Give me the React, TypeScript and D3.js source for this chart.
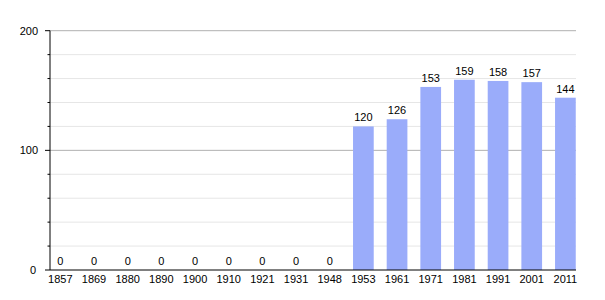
import React from "react";
import * as d3 from "d3";

const years = ["1857","1869","1880","1890","1900","1910","1921","1931","1948","1953","1961","1971","1981","1991","2001","2011"];
const population = [0,0,0,0,0,0,0,0,0,120,126,153,159,158,157,144];
const yTicks = [0, 100, 200];
const minorTicks = [20, 40, 60, 80, 120, 140, 160, 180];

export default function App() {
  const W = 605, H = 300;
  const left = 50, right = 576, top = 30.7, bottom = 270;
  const step = 33.67, bw = 20.7;
  const y = d3.scaleLinear().domain([0, 200]).range([bottom, top]);
  const x = (i: number) => left + i * step;
  const font = "'Liberation Sans', Arial, Helvetica, sans-serif";
  return (
    <svg width={W} height={H} style={{ position: "absolute", left: 0, top: 0 }} fontFamily={font}>
      <rect width={W} height={H} fill="#fff" />
      {minorTicks.map(t => (
        <line key={"m" + t} x1={left} x2={right} y1={y(t)} y2={y(t)} stroke="#e6e6e6" strokeWidth={1} />
      ))}
      {yTicks.filter(t => t > 0).map(t => (
        <line key={"g" + t} x1={left} x2={right} y1={y(t)} y2={y(t)} stroke="#b0b0b0" strokeWidth={1} />
      ))}
      {population.map((v, i) => (
        <rect key={"b" + i} x={x(i)} y={y(v)} width={bw} height={bottom - y(v)} fill="#9aacfa" />
      ))}
      {population.map((v, i) => (
        <text key={"v" + i} x={x(i) + bw / 2} y={y(v) - 5} fontSize={11} textAnchor="middle" fill="#000">{v}</text>
      ))}
      {years.map((yr, i) => (
        <text key={"x" + i} x={x(i) + bw / 2} y={bottom + 13} fontSize={11} textAnchor="middle" fill="#000">{yr}</text>
      ))}
      {yTicks.map(t => (
        <line key={"t" + t} x1={left - 5} x2={left} y1={y(t)} y2={y(t)} stroke="#000" strokeWidth={1} />
      ))}
      {minorTicks.map(t => (
        <line key={"mt" + t} x1={left - 2.5} x2={left} y1={y(t)} y2={y(t)} stroke="#000" strokeWidth={1} />
      ))}
      {yTicks.map(t => (
        <text key={"yl" + t} x={t === 0 ? 36 : 38} y={y(t) + 4} fontSize={11} textAnchor="end" fill="#000">{t}</text>
      ))}
      <line x1={left} x2={left} y1={top} y2={bottom} stroke="#000" strokeWidth={1} />
      <line x1={left} x2={right} y1={bottom} y2={bottom} stroke="#000" strokeWidth={1} />
    </svg>
  );
}
